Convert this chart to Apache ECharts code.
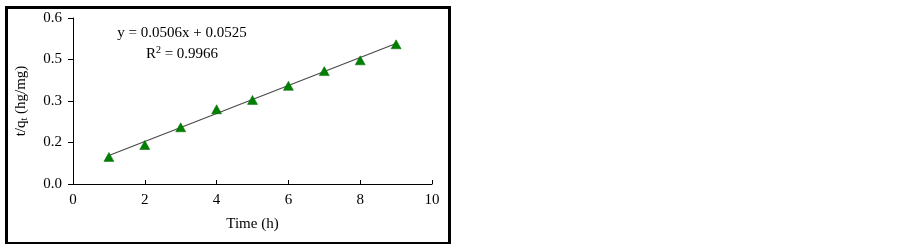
<!DOCTYPE html>
<html>
<head>
<meta charset="utf-8">
<script src="https://cdn.jsdelivr.net/npm/echarts@6/dist/echarts.min.js"></script>
<style>
html,body{margin:0;padding:0;background:#fff;}
#c{width:903px;height:244px;}
</style>
</head>
<body>
<div id="c"></div>
<script>
// Data
var timeH = [1, 2, 3, 4, 5, 6, 7, 8, 9];
var tOverQt = [0.098, 0.141, 0.205, 0.270, 0.304, 0.355, 0.408, 0.447, 0.505];
var trendX = [1, 9];
var trendY = [0.103, 0.508];
var yTickValues = [0, 0.15, 0.3, 0.45, 0.6];
var yTickLabels = ['0.0', '0.2', '0.3', '0.5', '0.6'];
var xTickLabels = ['0', '2', '4', '6', '8', '10'];
var equationText = 'y = 0.0506x + 0.0525';
var r2Value = '0.9966';

var font = '"Liberation Serif", "Times New Roman", serif';
var chart = echarts.init(document.getElementById('c'));

var scatterData = timeH.map(function (x, i) { return [x, tOverQt[i]]; });
var trendData = trendX.map(function (x, i) { return [x, trendY[i]]; });

chart.setOption({
  animation: false,
  backgroundColor: '#fff',
  grid: { left: 73, right: 471, top: 18, bottom: 60, containLabel: false },
  xAxis: {
    type: 'value', min: 0, max: 10, interval: 2,
    name: 'Time (h)', nameLocation: 'middle', nameGap: 33,
    nameTextStyle: { fontFamily: font, fontSize: 15, color: '#000' },
    axisLine: { show: true, lineStyle: { color: '#000', width: 1 } },
    axisTick: { show: true, inside: true, length: 4, lineStyle: { color: '#000' } },
    axisLabel: {
      fontFamily: font, fontSize: 15, color: '#000', margin: 9,
      formatter: function (v) { return xTickLabels[Math.round(v / 2)]; }
    },
    splitLine: { show: false }
  },
  yAxis: {
    type: 'value', min: 0, max: 0.6, interval: 0.15,
    name: '{a|t/q}{s|t}{a| (hg/mg)}', nameLocation: 'middle', nameGap: 44,
    nameTextStyle: {
      fontFamily: font, fontSize: 15, color: '#000',
      rich: {
        a: { fontFamily: font, fontSize: 15, color: '#000' },
        s: { fontFamily: font, fontSize: 10, color: '#000', verticalAlign: 'bottom', padding: [6, 0, 0, 0] }
      }
    },
    axisLine: { show: true, lineStyle: { color: '#000', width: 1 } },
    axisTick: { show: true, inside: false, length: 5, lineStyle: { color: '#000' } },
    axisLabel: {
      fontFamily: font, fontSize: 15, color: '#000', margin: 11,
      formatter: function (v) {
        var idx = yTickValues.findIndex(function (t) { return Math.abs(t - v) < 1e-6; });
        return idx >= 0 ? yTickLabels[idx] : '';
      }
    },
    splitLine: { show: false }
  },
  series: [
    {
      type: 'line', data: trendData, symbol: 'none',
      lineStyle: { color: '#4a4a4a', width: 1.2 }, z: 2, silent: true
    },
    {
      type: 'scatter', data: scatterData, symbol: 'triangle', symbolSize: [10, 9],
      itemStyle: { color: '#008000', opacity: 1, borderColor: '#006400', borderWidth: 0.5 }, z: 3
    }
  ],
  graphic: [
    {
      type: 'rect', left: 4, top: 5, shape: { width: 443, height: 236 },
      style: { fill: 'none', stroke: '#000', lineWidth: 3 }, silent: true
    },
    {
      type: 'text', x: 182, y: 33,
      style: { text: equationText, font: '15px ' + font, fill: '#000', align: 'center', verticalAlign: 'middle' }
    },
    {
      type: 'text', x: 182, y: 54,
      style: {
        text: '{a|R}{s|2}{a| = ' + r2Value + '}', align: 'center', verticalAlign: 'middle',
        rich: {
          a: { font: '15px ' + font, fill: '#000' },
          s: { font: '10px ' + font, fill: '#000', padding: [0, 0, 7, 0] }
        }
      }
    }
  ]
});
</script>
</body>
</html>
